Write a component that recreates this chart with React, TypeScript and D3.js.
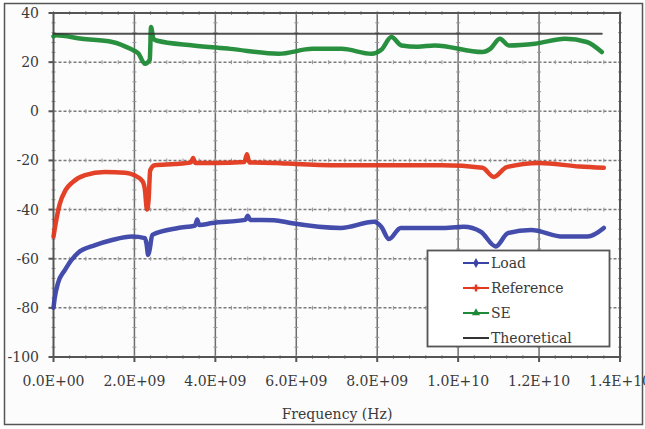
import React from "react";
import * as d3 from "d3";

// Frequencies in GHz
const loadFreq = [0, 0.03, 0.11, 0.28, 0.6, 1.03, 1.45, 1.94, 2.26, 2.3, 2.34, 2.38, 2.44, 3.08, 3.5, 3.55, 3.6, 3.92, 4.74, 4.8, 4.86, 5.45, 5.86, 7.1, 7.92, 8.1, 8.29, 8.58, 9.57, 10.14, 10.56, 10.93, 11.23, 11.8, 12.6, 13.2, 13.6];
const loadVal = [-80, -76, -70, -64.6, -57.7, -54.5, -52.4, -51, -51.6, -54, -58.5, -56, -50.3, -47.5, -46.5, -44, -46.3, -45.5, -44.2, -42.5, -44.2, -44.3, -45.5, -47.5, -45, -47, -52, -47.5, -47.5, -47, -49, -55, -49.6, -48.3, -51, -51, -47.5];

const refFreq = [0, 0.05, 0.15, 0.3, 0.46, 0.78, 1.27, 1.77, 2.0, 2.2, 2.26, 2.31, 2.35, 2.39, 2.5, 3.0, 3.4, 3.45, 3.5, 4.0, 4.72, 4.78, 4.84, 5.5, 6.0, 7.1, 8.0, 9.6, 10.6, 10.88, 11.2, 12.0, 13.0, 13.6];
const refVal = [-51, -46, -38, -32, -29, -26, -24.7, -25, -26, -28.5, -32, -40, -36, -24, -22, -21.5, -20.8, -19, -21, -21, -20.6, -17.5, -20.8, -21, -21.5, -22, -22, -22, -23, -26.7, -22.7, -21, -22.5, -23];

const seFreq = [0, 0.06, 0.7, 1.45, 1.9, 2.1, 2.26, 2.38, 2.41, 2.47, 2.54, 3.45, 4.37, 5.56, 6.4, 7.12, 7.86, 8.1, 8.35, 8.6, 9.0, 9.42, 10.6, 10.8, 11.03, 11.25, 11.9, 12.64, 13.18, 13.55];
const seVal = [30.5, 30.9, 29.5, 28.2, 25.4, 23.5, 19.3, 21, 34.3, 29.5, 28.8, 26.8, 25.4, 23.4, 25.4, 25.4, 23.4, 25, 30.2, 26.8, 26.3, 26.8, 24.1, 25.5, 29.5, 26.8, 27.5, 29.5, 28.2, 24.1];

const theoFreq = [0, 13.55];
const theoVal = [31.6, 31.6];

const xTicks = [0, 2e9, 4e9, 6e9, 8e9, 1e10, 1.2e10, 1.4e10];
const xTickLabels = ["0.0E+00", "2.0E+09", "4.0E+09", "6.0E+09", "8.0E+09", "1.0E+10", "1.2E+10", "1.4E+10"];
const yTicks = [40, 20, 0, -20, -40, -60, -80, -100];

const seriesNames = ["Load", "Reference", "SE", "Theoretical"];
const seriesColors = ["#3a43a6", "#e2381c", "#1e8a36", "#333333"];

export default function App() {
  const W = 645, H = 429;
  const x = d3.scaleLinear().domain([0, 1.4e10]).range([53.5, 620]);
  const y = d3.scaleLinear().domain([-100, 40]).range([357, 13]);
  const line = d3.line<[number, number]>().x(d => x(d[0] * 1e9)).y(d => y(d[1])).curve(d3.curveMonotoneX);
  const mk = (f: number[], v: number[]) => f.map((ff, i) => [ff, v[i]] as [number, number]);
  const series = [mk(loadFreq, loadVal), mk(refFreq, refVal), mk(seFreq, seVal), mk(theoFreq, theoVal)];
  const tstyle: React.CSSProperties = { fontFamily: '"DejaVu Serif", "Liberation Serif", serif' };
  const minorY = d3.range(-100, 40.01, 4);
  const minorX = d3.range(0, 1.4e10 + 1, 4e8);

  return (
    <svg width={W} height={H} style={{ position: "absolute", left: 0, top: 0, background: "#fff" }}>
      <rect x={4.5} y={3.5} width={638} height={421} fill="#fcfcfd" stroke="#555" strokeWidth={1.5} />
      {yTicks.filter(t => t !== 40 && t !== -100).map(t => (
        <line key={"hy" + t} x1={x(0)} x2={x(1.4e10)} y1={y(t)} y2={y(t)} stroke="#7a7a7a" strokeWidth={1.5} strokeDasharray="3,2" />
      ))}
      {xTicks.filter(t => t !== 0 && t !== 1.4e10).map(t => (
        <line key={"vx" + t} x1={x(t)} x2={x(t)} y1={y(40)} y2={y(-100)} stroke="#6e6e6e" strokeWidth={1.5} />
      ))}
      {xTicks.map(t => minorY.map(m => (
        <line key={"mt" + t + "_" + m} x1={x(t) - 2} x2={x(t) + 2} y1={y(m)} y2={y(m)} stroke="#999" strokeWidth={1} />
      )))}
      {yTicks.map(t => minorX.map(m => (
        <line key={"mx" + t + "_" + m} x1={x(m)} x2={x(m)} y1={y(t) - 2} y2={y(t) + 2} stroke="#999" strokeWidth={1} />
      )))}
      <rect x={x(0)} y={y(40)} width={x(1.4e10) - x(0)} height={y(-100) - y(40)} fill="none" stroke="#555" strokeWidth={2} />
      {yTicks.map(t => (
        <line key={"yt" + t} x1={x(0) - 5} x2={x(0)} y1={y(t)} y2={y(t)} stroke="#555" strokeWidth={2} />
      ))}
      {xTicks.map(t => (
        <line key={"xt" + t} x1={x(t)} x2={x(t)} y1={y(-100)} y2={y(-100) + 5} stroke="#555" strokeWidth={2} />
      ))}
      {series.map((s, i) => (
        <path key={"s" + i} d={line(s) || ""} fill="none" stroke={seriesColors[i]} strokeWidth={i === 3 ? 2 : 4.5} strokeLinejoin="round" strokeLinecap="round" opacity={i === 3 ? 0.85 : 0.95} />
      ))}
      {yTicks.map(t => (
        <text key={"yl" + t} x={39} y={y(t) + 5} textAnchor="end" style={tstyle} fontSize={14} fill="#3a3a3a">{t}</text>
      ))}
      {xTicks.map((t, i) => (
        <text key={"xl" + t} x={x(t)} y={386} textAnchor="middle" style={tstyle} fontSize={14} fill="#3a3a3a">{xTickLabels[i]}</text>
      ))}
      <text x={337} y={419} textAnchor="middle" style={tstyle} fontSize={14} fill="#3a3a3a">Frequency (Hz)</text>
      <rect x={427.5} y={250.5} width={182} height={96} fill="#fff" stroke="#555" strokeWidth={1.8} />
      {seriesNames.map((n, i) => {
        const ly = 263 + i * 25;
        return (
          <g key={"lg" + i}>
            <line x1={463} x2={489} y1={ly} y2={ly} stroke={seriesColors[i]} strokeWidth={2} />
            {i < 3 && <path d={d3.symbol(i === 0 ? d3.symbolDiamond : i === 1 ? d3.symbolCross : d3.symbolTriangle, 28)() || ""} transform={`translate(476,${ly})`} fill={seriesColors[i]} />}
            <text x={491} y={ly + 5} style={tstyle} fontSize={14} fill="#3a3a3a">{n}</text>
          </g>
        );
      })}
    </svg>
  );
}
